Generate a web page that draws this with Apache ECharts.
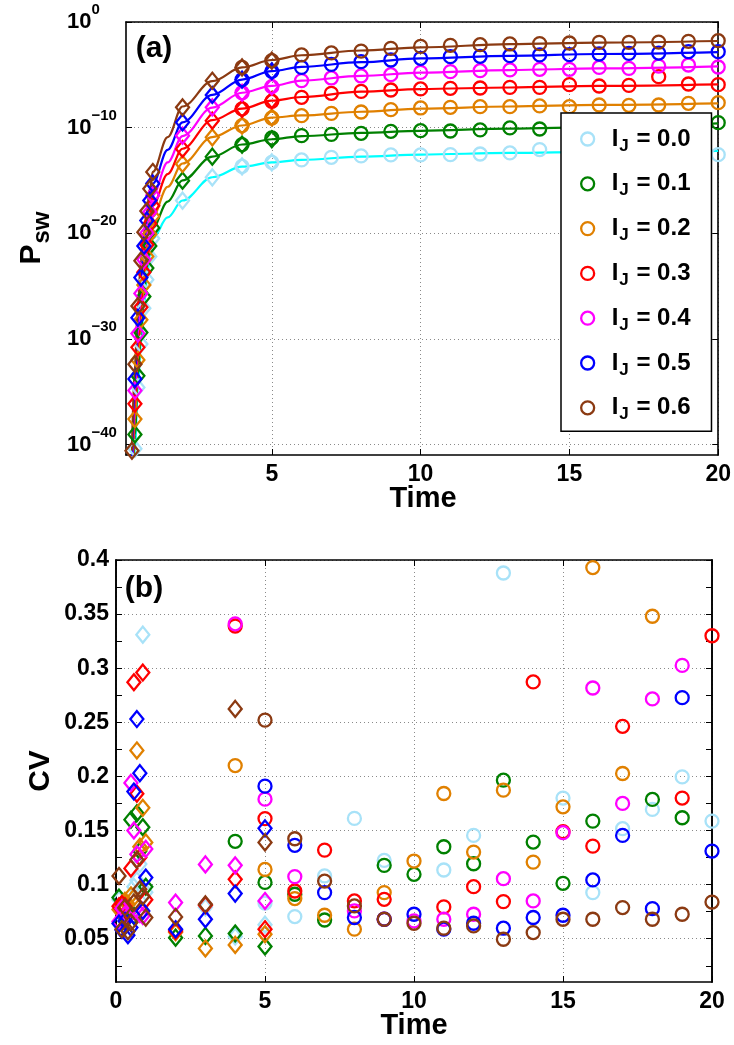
<!DOCTYPE html>
<html><head><meta charset="utf-8">
<script src="https://cdn.jsdelivr.net/npm/echarts@6/dist/echarts.min.js"></script>
<style>html,body{margin:0;padding:0;background:#fff}#c{width:734px;height:1045px}</style>
</head><body><div id="c"></div>
<script>
// ---------- shared ----------
const LEVELS = ['0.0','0.1','0.2','0.3','0.4','0.5','0.6'];
const MARKER_COLORS = ['#A8E2F8','#008000','#E08000','#FF0000','#FF00FF','#0000FF','#8B3A12'];
const LINE_COLORS   = ['#00FFFF','#008000','#E08000','#FF0000','#FF00FF','#0000FF','#8B3A12'];

// ---------- panel (a): log10(P_sw) ----------
const A_X_TICKS = [5,10,15,20];
const A_Y_TICKS = [-40,-30,-20,-10,0];
const A_DIA_T = [0.3,0.4,0.5,0.6,0.7,0.8,0.9,1,2,3,4,5];
const A_DIA_00 = [null,-40.4,-34.6,-30.5,-27.1,-24.4,-22.2,-20.5,-16.91,-14.71,-13.67,-13.29];
const A_DIA_01 = [null,-39.05,-33.5,-29.4,-26.0,-23.3,-21.2,-19.5,-15.02,-12.75,-11.61,-11.1];
const A_DIA_02 = [null,-37.6,-32.0,-28.2,-24.9,-22.2,-20.1,-18.4,-13.44,-10.92,-9.81,-9.03];
const A_DIA_03 = [null,-36.15,-30.8,-27.0,-23.7,-21.1,-19.1,-17.4,-12.02,-9.34,-8.23,-7.4];
const A_DIA_04 = [null,-34.9,-29.5,-25.7,-22.5,-20.0,-18.0,-16.4,-10.76,-8.08,-6.7,-6.1];
const A_DIA_05 = [null,-33.8,-28.0,-24.2,-21.2,-18.8,-16.9,-15.3,-9.5,-6.91,-5.46,-4.67];
const A_DIA_06 = [-40.6,-32.4,-26.9,-22.6,-19.9,-17.9,-15.8,-14.2,-8.08,-5.56,-4.3,-3.66];

const A_CIR_T = [4,5,6,7,8,9,10,11,12,13,14,15,16,17,18,19,20];
const A_CIR_00 = [-13.67,-13.29,-13.06,-12.81,-12.68,-12.59,-12.59,-12.56,-12.5,-12.4,-12.08,null,null,null,null,null,-12.56];
const A_CIR_01 = [-11.61,-10.98,-10.76,-10.64,-10.54,-10.35,-10.29,-10.32,-10.22,-10.03,-10.13,null,null,null,null,null,-9.53];
const A_CIR_02 = [-9.81,-9.09,-8.87,-8.65,-8.52,-8.3,-8.14,-8.08,-8.02,-8.02,-7.95,-8.02,-7.86,-7.89,-7.86,-7.7,-7.64];
const A_CIR_03 = [-8.23,-7.51,-7.13,-6.75,-6.57,-6.44,-6.34,-6.28,-6.25,-6.19,-6.19,-5.93,-6.06,-6.0,-5.18,-5.87,-5.93];
const A_CIR_04 = [-6.7,-6.12,-5.55,-5.3,-5.11,-4.99,-4.77,-4.7,-4.61,-4.54,-4.48,-4.48,-4.3,-4.39,-4.17,-4.07,-4.26];
const A_CIR_05 = [-5.46,-4.67,-4.3,-4.01,-3.76,-3.6,-3.44,-3.28,-3.25,-3.19,-3.12,-3.09,-3.03,-2.97,-2.94,-2.81,-2.81];
const A_CIR_06 = [-4.3,-3.66,-3.12,-2.93,-2.75,-2.5,-2.31,-2.21,-2.15,-2.08,-2.05,-1.99,-1.93,-1.93,-1.9,-1.83,-1.77];

const A_LINE_T = [0.3,0.4,0.5,0.6,0.7,0.8,0.9,1,1.5,2,3,4,5,6,8,10,13,16,20];
const A_LINE_00 = [-48,-40.4,-34.6,-30.5,-27.1,-24.4,-22.2,-20.5,-18.5,-16.9,-14.7,-13.7,-13.3,-13.05,-12.75,-12.55,-12.4,-12.3,-12.2];
const A_LINE_01 = [-47,-39.05,-33.5,-29.4,-26.0,-23.3,-21.2,-19.5,-17.0,-15.0,-12.75,-11.6,-11.1,-10.8,-10.5,-10.3,-10.1,-9.95,-9.6];
const A_LINE_02 = [-46,-37.6,-32.0,-28.2,-24.9,-22.2,-20.1,-18.4,-15.6,-13.4,-10.9,-9.8,-9.05,-8.85,-8.5,-8.2,-8.0,-7.85,-7.7];
const A_LINE_03 = [-45,-36.15,-30.8,-27.0,-23.7,-21.1,-19.1,-17.4,-14.4,-12.0,-9.3,-8.2,-7.45,-7.1,-6.6,-6.35,-6.2,-6.05,-5.9];
const A_LINE_04 = [-44,-34.9,-29.5,-25.7,-22.5,-20.0,-18.0,-16.4,-13.3,-10.8,-8.1,-6.7,-6.05,-5.55,-5.1,-4.8,-4.55,-4.4,-4.2];
const A_LINE_05 = [-42.5,-33.8,-28.0,-24.2,-21.2,-18.8,-16.9,-15.3,-12.1,-9.5,-6.9,-5.45,-4.65,-4.25,-3.8,-3.45,-3.2,-3.03,-2.85];
const A_LINE_06 = [-40.6,-32.4,-26.9,-22.6,-19.9,-17.9,-15.8,-14.2,-10.9,-8.0,-5.6,-4.3,-3.6,-3.15,-2.7,-2.4,-2.1,-1.95,-1.8];

// ---------- panel (b): CV ----------
const B_X_TICKS = [0,5,10,15,20];
const B_Y_LABELS = [0.05,0.1,0.15,0.2,0.25,0.3,0.35,0.4];
const B_Y_MINOR = [0.025,0.075,0.125,0.175,0.225,0.275,0.325,0.375];
const B_DIA_T = [0.1,0.2,0.3,0.4,0.5,0.6,0.7,0.8,0.9,1,2,3,4,5];
const B_DIA_00 = [0.086,0.075,0.072,0.081,0.090,0.098,0.104,0.119,0.331,0.093,0.058,0.079,0.052,0.063];
const B_DIA_01 = [0.088,0.079,0.070,0.073,0.160,0.071,0.166,0.131,0.153,0.098,0.051,0.0526,0.0548,0.0428];
const B_DIA_02 = [0.077,0.082,0.085,0.082,0.090,0.088,0.224,0.135,0.171,0.139,0.056,0.041,0.0443,0.0542];
const B_DIA_03 = [0.080,0.082,0.080,0.075,0.115,0.287,0.184,0.125,0.296,0.086,0.0572,0.081,0.1049,0.0588];
const B_DIA_04 = [0.066,0.078,0.072,0.070,0.194,0.150,0.128,0.073,0.071,0.133,0.0834,0.1187,0.1178,0.0849];
const B_DIA_05 = [0.064,0.058,0.0664,0.0532,0.0603,0.186,0.253,0.203,0.0756,0.1065,0.0588,0.068,0.0917,0.152];
const B_DIA_06 = [0.108,0.0588,0.0788,0.057,0.065,0.0834,0.123,0.0957,0.089,0.0695,0.0701,0.0818,0.2624,0.139];

const B_CIR_T = [4,5,6,7,8,9,10,11,12,13,14,15,16,17,18,19,20];
const B_CIR_00 = [null,0.083,0.0705,0.108,0.1612,0.1224,null,0.1135,0.1455,0.388,null,0.180,0.0926,0.1517,0.1695,0.1996,0.1587];
const B_CIR_01 = [0.140,0.102,0.0911,0.0673,null,0.1178,0.1095,0.135,0.1193,0.1965,0.1393,0.1012,0.1587,null,0.1787,0.1618,null];
const B_CIR_02 = [0.210,0.114,0.0871,0.0717,0.0588,0.0926,0.1218,0.1842,0.1301,0.1873,0.1208,0.1719,0.393,0.2027,0.348,null,null];
const B_CIR_03 = [0.339,0.161,0.0941,0.1319,0.0849,0.0864,null,0.0794,0.0981,0.0843,0.2873,0.149,0.1356,0.2463,null,0.180,0.330];
const B_CIR_04 = [0.341,0.179,0.1074,null,0.0757,0.068,0.0664,0.068,0.0726,0.1055,0.0849,0.148,0.2817,0.175,0.2716,0.3026,null];
const B_CIR_05 = [null,0.191,0.1363,0.0926,0.0696,0.068,0.0726,0.0588,0.0643,0.0597,0.0696,0.0717,0.1043,0.1455,0.0778,0.2728,0.131];
const B_CIR_06 = [null,0.252,0.1424,0.1033,0.0803,0.068,0.0643,0.0597,0.0618,0.0495,0.0557,0.068,0.068,0.0788,0.068,0.0726,0.0839];

const A_DIA = [A_DIA_00,A_DIA_01,A_DIA_02,A_DIA_03,A_DIA_04,A_DIA_05,A_DIA_06];
const A_CIR = [A_CIR_00,A_CIR_01,A_CIR_02,A_CIR_03,A_CIR_04,A_CIR_05,A_CIR_06];
const A_LINE = [A_LINE_00,A_LINE_01,A_LINE_02,A_LINE_03,A_LINE_04,A_LINE_05,A_LINE_06];
const B_DIA = [B_DIA_00,B_DIA_01,B_DIA_02,B_DIA_03,B_DIA_04,B_DIA_05,B_DIA_06];
const B_CIR = [B_CIR_00,B_CIR_01,B_CIR_02,B_CIR_03,B_CIR_04,B_CIR_05,B_CIR_06];

// ---------- build ----------
const FONT = '"Liberation Sans", Arial, Helvetica, sans-serif';
const zip = (xs, ys) => xs.map((x, i) => [x, ys[i]]).filter(p => p[1] !== null);
const GRID_LINE = {show: true, lineStyle: {color: '#8a8a8a', type: [1, 3], width: 1}};
const AXIS_LINE = {show: true, onZero: false, lineStyle: {color: '#000', width: 1.6}};
const tickStyle = {lineStyle: {color: '#000', width: 1}};
const labelBase = {color: '#000', fontFamily: FONT, fontWeight: 'bold', fontSize: 23};

function mirrorAxis(base, pos, ticks) {
  return Object.assign({}, base, {
    position: pos,
    axisLabel: {show: false},
    splitLine: {show: false},
    axisLine: AXIS_LINE,
    axisTick: Object.assign({show: true, inside: true, length: 6, customValues: ticks}, tickStyle)
  });
}

const xAxis = [
  {gridIndex: 0, type: 'value', min: 0.1, max: 20, position: 'bottom', axisLine: AXIS_LINE,
   axisTick: Object.assign({inside: true, length: 6, customValues: A_X_TICKS}, tickStyle),
   axisLabel: Object.assign({customValues: A_X_TICKS, margin: 8}, labelBase),
   splitLine: GRID_LINE},
  mirrorAxis({gridIndex: 0, type: 'value', min: 0.1, max: 20}, 'top', A_X_TICKS),
  {gridIndex: 1, type: 'value', min: 0, max: 20, position: 'bottom', axisLine: AXIS_LINE,
   axisTick: Object.assign({inside: true, length: 6, customValues: B_X_TICKS}, tickStyle),
   axisLabel: Object.assign({customValues: B_X_TICKS, margin: 8}, labelBase),
   splitLine: GRID_LINE},
  mirrorAxis({gridIndex: 1, type: 'value', min: 0, max: 20}, 'top', B_X_TICKS)
];

const yAxis = [
  {gridIndex: 0, type: 'value', min: -41, max: 0, position: 'left', axisLine: AXIS_LINE,
   axisTick: Object.assign({inside: true, length: 6, customValues: A_Y_TICKS}, tickStyle),
   axisLabel: {customValues: A_Y_TICKS, align: 'left', margin: 59,
     formatter: v => '{b|10}{s|' + (v === 0 ? '0' : '\u2212' + Math.abs(v)) + '}',
     rich: {
       b: {fontSize: 22, fontWeight: 'bold', fontFamily: FONT, color: '#000'},
       s: {fontSize: 15, fontWeight: 'bold', fontFamily: FONT, color: '#000', padding: [0, 0, 24, 0]}
     }},
   splitLine: GRID_LINE},
  mirrorAxis({gridIndex: 0, type: 'value', min: -41, max: 0}, 'right', A_Y_TICKS),
  {gridIndex: 1, type: 'value', min: 0.01, max: 0.4, position: 'left', axisLine: AXIS_LINE,
   axisTick: Object.assign({inside: true, length: 6, customValues: B_Y_LABELS}, tickStyle),
   axisLabel: Object.assign({customValues: B_Y_LABELS, margin: 7}, labelBase),
   splitLine: GRID_LINE},
  mirrorAxis({gridIndex: 1, type: 'value', min: 0.01, max: 0.4}, 'right', B_Y_LABELS),
  mirrorAxis({gridIndex: 1, type: 'value', min: 0.01, max: 0.4}, 'left', B_Y_MINOR),
  mirrorAxis({gridIndex: 1, type: 'value', min: 0.01, max: 0.4}, 'right', B_Y_MINOR)
];

const series = [];
const markerStyle = c => ({color: 'rgba(0,0,0,0)', borderColor: c, borderWidth: 2.3, opacity: 1});
LEVELS.forEach((lv, i) => {
  series.push({type: 'line', name: 'curve ' + lv, xAxisIndex: 0, yAxisIndex: 0,
    data: zip(A_LINE_T, A_LINE[i]), smooth: 0.35, smoothMonotone: 'x', showSymbol: false, symbol: 'none',
    lineStyle: {color: LINE_COLORS[i], width: 2.2}, clip: true, z: 2, silent: true});
});
LEVELS.forEach((lv, i) => {
  series.push({type: 'scatter', name: 'a-dia ' + lv, xAxisIndex: 0, yAxisIndex: 0,
    data: zip(A_DIA_T, A_DIA[i]), symbol: 'diamond', symbolSize: [13, 16],
    itemStyle: markerStyle(MARKER_COLORS[i]), z: 3, clip: true});
  series.push({type: 'scatter', name: 'I_J = ' + lv, xAxisIndex: 0, yAxisIndex: 0,
    data: zip(A_CIR_T, A_CIR[i]), symbol: 'circle', symbolSize: 13,
    itemStyle: markerStyle(MARKER_COLORS[i]), z: 3, clip: true});
  series.push({type: 'scatter', name: 'b-dia ' + lv, xAxisIndex: 2, yAxisIndex: 2,
    data: zip(B_DIA_T, B_DIA[i]), symbol: 'diamond', symbolSize: [13, 16],
    itemStyle: markerStyle(MARKER_COLORS[i]), z: 3, clip: false});
  series.push({type: 'scatter', name: 'b-cir ' + lv, xAxisIndex: 2, yAxisIndex: 2,
    data: zip(B_CIR_T, B_CIR[i]), symbol: 'circle', symbolSize: 13,
    itemStyle: markerStyle(MARKER_COLORS[i]), z: 3, clip: false});
});

const txt = (t, x, y, size, extra) => Object.assign({type: 'text', x: x, y: y, z: 10,
  style: {text: t, fill: '#000', font: 'bold ' + size + 'px ' + FONT, align: 'center', verticalAlign: 'middle',
          textAlign: 'center', textVerticalAlign: 'middle'}}, extra || {});

const option = {
  backgroundColor: '#fff',
  animation: false,
  grid: [
    {left: 126, top: 22, width: 594, height: 433},
    {left: 116, top: 560, width: 596, height: 422}
  ],
  xAxis: xAxis,
  yAxis: yAxis,
  legend: {
    orient: 'vertical', left: 561, top: 113,
    data: LEVELS.map((lv, i) => ({name: 'I_J = ' + lv, icon: 'circle',
      itemStyle: {color: 'rgba(0,0,0,0)', borderColor: MARKER_COLORS[i], borderWidth: 2.3, opacity: 1}})),
    itemWidth: 38, itemHeight: 13, itemGap: 17.3,
    padding: [14, 21, 8, 19],
    backgroundColor: '#fff', borderColor: '#000', borderWidth: 1.5, borderRadius: 0,
    selectedMode: false, z: 5,
    formatter: n => '{i|I}{j|J}{t| = ' + n.slice(-3) + '}',
    textStyle: {
      rich: {
        i: {fontSize: 24, fontWeight: 'bold', fontFamily: FONT, color: '#000', lineHeight: 30},
        j: {fontSize: 17, fontWeight: 'bold', fontFamily: FONT, color: '#000', padding: [14, 1, 0, 1]},
        t: {fontSize: 24, fontWeight: 'bold', fontFamily: FONT, color: '#000', lineHeight: 30}
      }
    }
  },
  graphic: [
    txt('(a)', 154, 49, 30),
    txt('(b)', 144, 589, 30),
    txt('Time', 423, 499, 29),
    txt('Time', 414, 1026, 29),
    txt('CV', 41, 771, 30, {rotation: Math.PI / 2}),
    {type: 'text', x: 32, y: 238, rotation: Math.PI / 2, z: 10,
     style: {text: '{p|P}{s|sw}', align: 'center', verticalAlign: 'middle', textAlign: 'center', textVerticalAlign: 'middle',
       rich: {
         p: {fontSize: 30, fontWeight: 'bold', fontFamily: FONT, fill: '#000', color: '#000'},
         s: {fontSize: 24, fontWeight: 'bold', fontFamily: FONT, fill: '#000', color: '#000', padding: [20, 0, 0, 1]}
       }}}
  ],
  series: series
};

const chart = echarts.init(document.getElementById('c'), null, {renderer: 'canvas'});
chart.setOption(option);
</script>
</body></html>
